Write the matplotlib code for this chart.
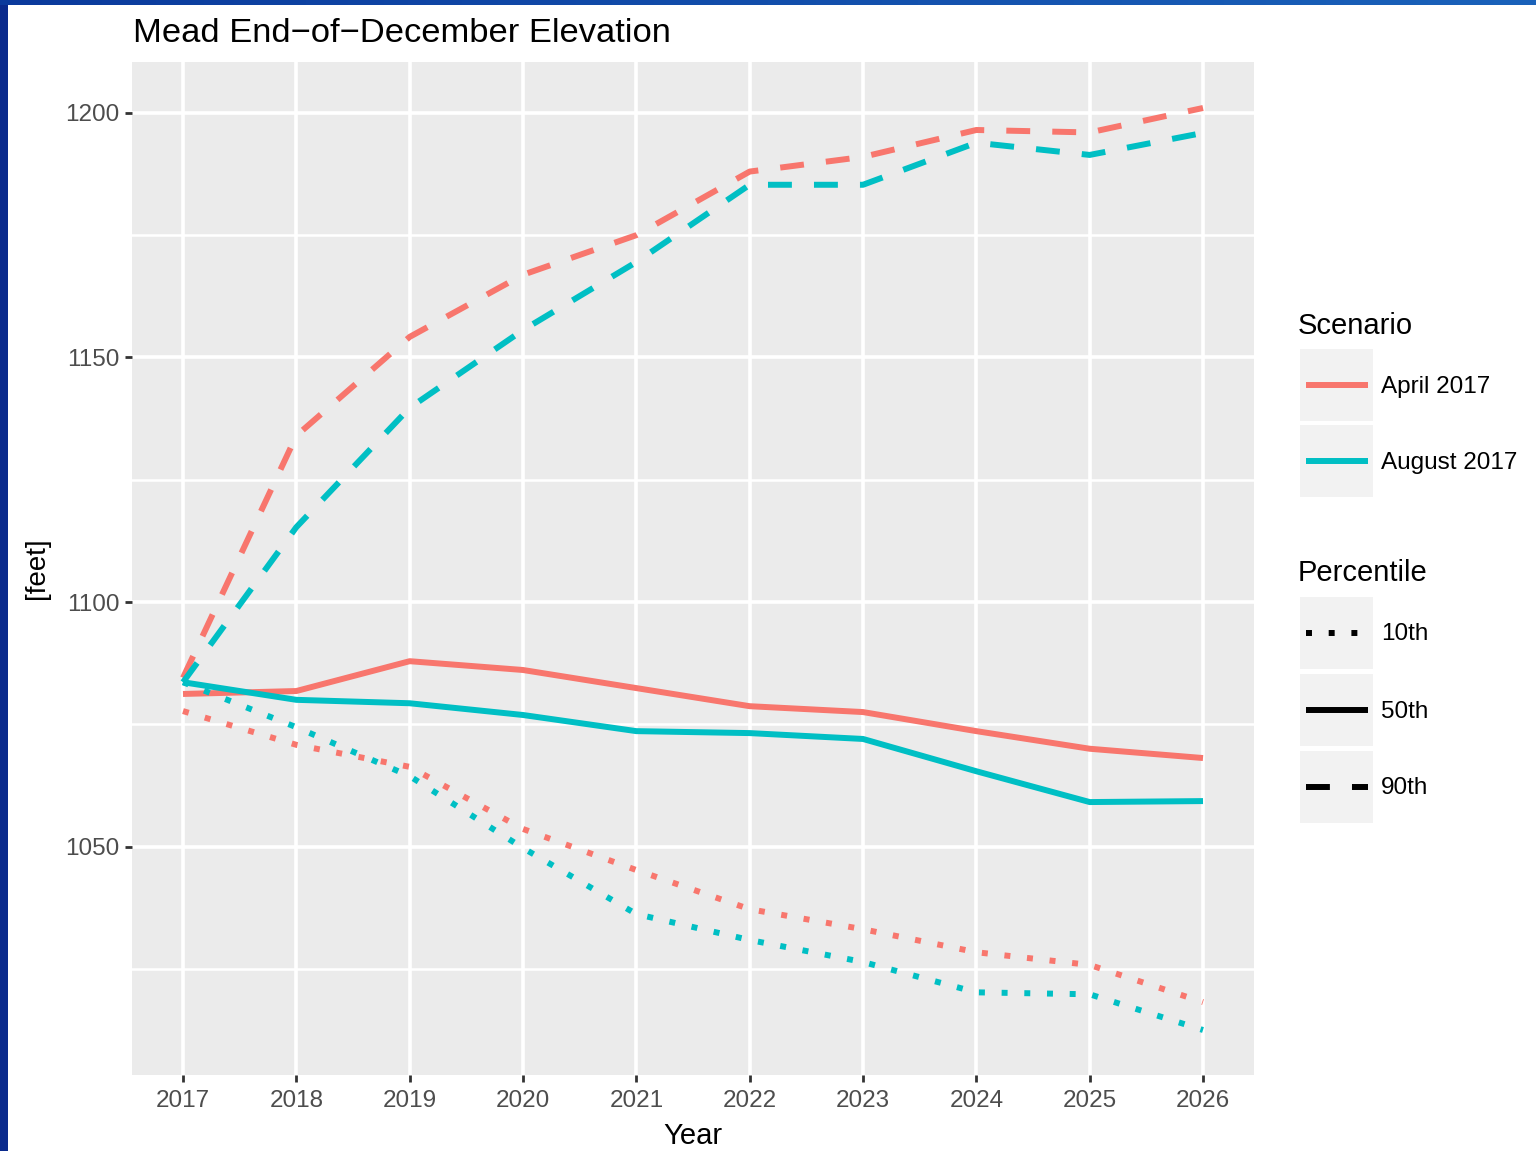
import numpy as np
import matplotlib
matplotlib.use("Agg")
import matplotlib.pyplot as plt
from matplotlib.lines import Line2D
from matplotlib.patches import Rectangle
from matplotlib.colors import LinearSegmentedColormap

plt.rcParams['font.family'] = ['Liberation Sans', 'DejaVu Sans']

years = [2017, 2018, 2019, 2020, 2021, 2022, 2023, 2024, 2025, 2026]

april_10 = [1077.7, 1070.8, 1066.3, 1053.6, 1045.2, 1037.2, 1033.1, 1028.4, 1025.8, 1018.2]
april_50 = [1081.2, 1081.8, 1087.9, 1086.1, 1082.4, 1078.7, 1077.5, 1073.6, 1070.0, 1068.1]
april_90 = [1084.5, 1134.0, 1154.2, 1166.9, 1175.0, 1188.0, 1191.0, 1196.5, 1196.0, 1201.0]

august_10 = [1083.6, 1074.4, 1064.4, 1049.7, 1036.2, 1030.9, 1026.4, 1020.2, 1019.8, 1012.5]
august_50 = [1083.6, 1080.0, 1079.3, 1076.9, 1073.6, 1073.2, 1072.0, 1065.4, 1059.1, 1059.3]
august_90 = [1083.6, 1115.3, 1139.7, 1155.6, 1169.5, 1185.3, 1185.3, 1193.9, 1191.4, 1195.9]

scenarios = ["April 2017", "August 2017"]
percentiles = ["10th", "50th", "90th"]
y_ticks = [1050, 1100, 1150, 1200]
y_minor = [1025, 1075, 1125, 1175]

colors = {"April 2017": "#F8766D", "August 2017": "#00BFC4"}
LW = 4.3
styles = {"10th": (0, (1, 2.8)), "50th": "-", "90th": (0, (4, 3.7))}

data = {
    "April 2017": {"10th": april_10, "50th": april_50, "90th": april_90},
    "August 2017": {"10th": august_10, "50th": august_50, "90th": august_90},
}

W, H = 1536, 1151
fig = plt.figure(figsize=(W / 100, H / 100), dpi=100)
fig.patch.set_facecolor("white")

def fx(px):
    return px / W

def fy(py):
    return 1 - py / H

ax = fig.add_axes([fx(132), fy(1075), fx(1254) - fx(132), fy(62) - fy(1075)])
ax.set_facecolor("#EBEBEB")
for s in ax.spines.values():
    s.set_visible(False)

ax.set_xlim(2016.55, 2026.45)
ax.set_ylim(1003.3, 1210.4)
ax.set_xticks(years)
ax.set_xticklabels([str(y) for y in years])
ax.set_yticks(y_ticks)
ax.set_yticks(y_minor, minor=True)
ax.grid(True, which="major", color="white", linewidth=2.6)
ax.grid(True, which="minor", axis="y", color="white", linewidth=1.8)
ax.set_axisbelow(True)
ax.tick_params(axis="both", which="major", length=5, width=2, color="#333333",
               labelsize=17.5, labelcolor="#4D4D4D", pad=4)
ax.tick_params(axis="x", which="major", pad=6)
ax.tick_params(axis="both", which="minor", length=0)

for sc in scenarios:
    for p in percentiles:
        ax.plot(years, data[sc][p], color=colors[sc], linewidth=LW,
                linestyle=styles[p], solid_capstyle="butt", dash_capstyle="butt",
                solid_joinstyle="round", dash_joinstyle="round")

ax.set_xlabel("Year", fontsize=21, labelpad=7)
fig.text(fx(37), fy(568), "[feet]", rotation=90, fontsize=20, ha="center", va="center")
fig.text(fx(133), fy(33), "Mead End\u2212of\u2212December Elevation", fontsize=24.8,
         ha="left", va="center")

# Legend (manual)
fig.text(fx(1298), fy(326), "Scenario", fontsize=21, ha="left", va="center")
for i, sc in enumerate(scenarios):
    top = 349 + i * 76
    fig.add_artist(Rectangle((fx(1300), fy(top + 72)), fx(73), fy(top) - fy(top + 72),
                             facecolor="#F2F2F2", edgecolor="none", transform=fig.transFigure))
    cy = top + 36
    fig.add_artist(Line2D([fx(1306), fx(1368)], [fy(cy), fy(cy)], color=colors[sc],
                          linewidth=LW, solid_capstyle="butt", transform=fig.transFigure))
    fig.text(fx(1381), fy(cy + 1.5), sc, fontsize=17.5, ha="left", va="center")

fig.text(fx(1298), fy(573), "Percentile", fontsize=21, ha="left", va="center")
for i, p in enumerate(percentiles):
    top = 597 + i * 77
    fig.add_artist(Rectangle((fx(1300), fy(top + 72)), fx(73), fy(top) - fy(top + 72),
                             facecolor="#F2F2F2", edgecolor="none", transform=fig.transFigure))
    cy = top + 36
    fig.add_artist(Line2D([fx(1306), fx(1368)], [fy(cy), fy(cy)], color="black",
                          linewidth=LW, linestyle=styles[p], solid_capstyle="butt",
                          dash_capstyle="butt", transform=fig.transFigure))
    fig.text(fx(1381), fy(cy + 1.5), p, fontsize=17.5, ha="left", va="center")

# Blue frame (left and top)
fig.add_artist(Rectangle((0, 0), fx(8), 1, facecolor="#0A2A8C", edgecolor="none",
                         transform=fig.transFigure, zorder=10))
bar = fig.add_axes([0, fy(5), 1, fy(0) - fy(5)], zorder=11)
grad = np.linspace(0, 1, 256).reshape(1, -1)
cmap = LinearSegmentedColormap.from_list("b", ["#0B3A9C", "#1A62BA"])
bar.imshow(grad, aspect="auto", cmap=cmap, extent=[0, 1, 0, 1])
bar.axis("off")

fig.savefig("out.png", dpi=100)
